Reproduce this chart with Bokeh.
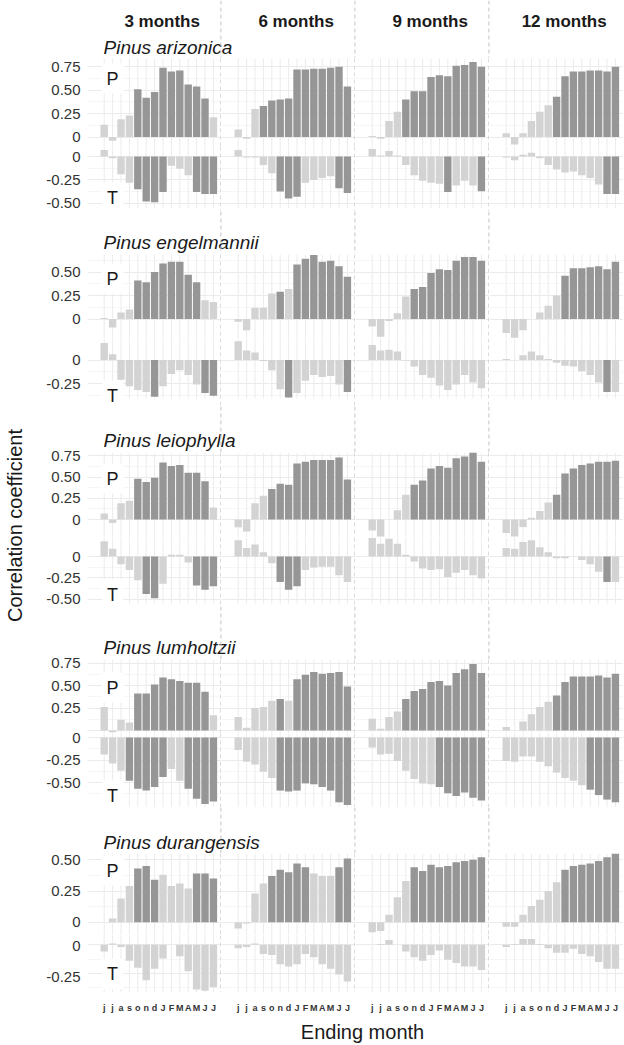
from math import pi
from bokeh.plotting import figure
from bokeh.layouts import row, column
from bokeh.models import Range1d, FixedTicker, Span, Label, ColumnDataSource, Grid, LinearAxis
from bokeh.embed import file_html
from bokeh.resources import INLINE
from bokeh.core.properties import value

# ---------------- data ----------------
months = ["j", "j", "a", "s", "o", "n", "d", "J", "F", "M", "A", "M", "J", "J"]
windows = ["3 months", "6 months", "9 months", "12 months"]
species = ["Pinus arizonica", "Pinus engelmannii", "Pinus leiophylla",
           "Pinus lumholtzii", "Pinus durangensis"]
panel_names = ["P", "T"]
tick_values = [-0.5, -0.25, 0.0, 0.25, 0.5, 0.75]
tick_labels = ["-0.50", "-0.25", "0", "0.25", "0.50", "0.75"]
y_title = "Correlation coefficient"
x_title = "Ending month"

# one list per window (3, 6, 9, 12 months); sig: 1 = significant (dark bar)
arizonica_P = [
    [0.13, -0.04, 0.19, 0.23, 0.51, 0.42, 0.48, 0.74, 0.70, 0.71, 0.56, 0.54, 0.41, 0.21],
    [0.08, -0.02, 0.30, 0.33, 0.39, 0.40, 0.41, 0.72, 0.72, 0.73, 0.73, 0.74, 0.75, 0.54],
    [0.01, -0.02, 0.17, 0.27, 0.40, 0.49, 0.49, 0.64, 0.66, 0.65, 0.76, 0.77, 0.80, 0.75],
    [0.04, -0.08, 0.04, 0.17, 0.27, 0.34, 0.43, 0.65, 0.70, 0.70, 0.71, 0.71, 0.70, 0.75]]
arizonica_P_sig = [
    [0, 0, 0, 0, 1, 1, 1, 1, 1, 1, 1, 1, 1, 0],
    [0, 0, 0, 1, 1, 1, 1, 1, 1, 1, 1, 1, 1, 1],
    [0, 0, 0, 0, 1, 1, 1, 1, 1, 1, 1, 1, 1, 1],
    [0, 0, 0, 0, 0, 0, 1, 1, 1, 1, 1, 1, 1, 1]]
arizonica_T = [
    [0.07, -0.02, -0.19, -0.28, -0.35, -0.48, -0.49, -0.38, -0.10, -0.13, -0.20, -0.38, -0.40, -0.40],
    [0.07, -0.01, -0.01, -0.09, -0.18, -0.375, -0.45, -0.43, -0.28, -0.25, -0.23, -0.21, -0.34, -0.39],
    [0.08, 0.01, 0.06, 0.01, -0.09, -0.20, -0.26, -0.28, -0.29, -0.38, -0.31, -0.26, -0.31, -0.37],
    [-0.01, -0.04, 0.02, 0.04, -0.02, -0.09, -0.14, -0.17, -0.16, -0.20, -0.23, -0.30, -0.40, -0.40]]
arizonica_T_sig = [
    [0, 0, 0, 0, 1, 1, 1, 1, 0, 0, 0, 1, 1, 1],
    [0, 0, 0, 0, 0, 1, 1, 1, 0, 0, 0, 0, 1, 1],
    [0, 0, 0, 0, 0, 0, 0, 0, 0, 1, 0, 0, 0, 1],
    [0, 0, 0, 0, 0, 0, 0, 0, 0, 0, 0, 0, 1, 1]]

engelmannii_P = [
    [0.01, -0.09, 0.07, 0.10, 0.41, 0.39, 0.50, 0.59, 0.61, 0.61, 0.47, 0.39, 0.20, 0.18],
    [-0.03, -0.12, 0.12, 0.12, 0.27, 0.29, 0.32, 0.58, 0.64, 0.68, 0.61, 0.62, 0.56, 0.45],
    [-0.08, -0.19, -0.02, 0.06, 0.24, 0.32, 0.34, 0.49, 0.53, 0.52, 0.62, 0.66, 0.66, 0.62],
    [-0.15, -0.20, -0.12, 0.00, 0.07, 0.14, 0.25, 0.46, 0.54, 0.54, 0.55, 0.56, 0.53, 0.61]]
engelmannii_P_sig = [
    [0, 0, 0, 0, 1, 1, 1, 1, 1, 1, 1, 1, 0, 0],
    [0, 0, 0, 0, 0, 1, 0, 1, 1, 1, 1, 1, 1, 1],
    [0, 0, 0, 0, 0, 1, 1, 1, 1, 1, 1, 1, 1, 1],
    [0, 0, 0, 0, 0, 0, 0, 1, 1, 1, 1, 1, 1, 1]]
engelmannii_T = [
    [0.18, 0.06, -0.21, -0.28, -0.32, -0.34, -0.39, -0.28, -0.15, -0.11, -0.16, -0.26, -0.35, -0.38],
    [0.20, 0.10, 0.08, -0.01, -0.11, -0.31, -0.40, -0.35, -0.22, -0.16, -0.18, -0.17, -0.26, -0.34],
    [0.16, 0.10, 0.11, 0.09, -0.005, -0.07, -0.16, -0.19, -0.27, -0.32, -0.26, -0.16, -0.24, -0.30],
    [0.01, 0.00, 0.05, 0.09, 0.05, 0.01, -0.03, -0.06, -0.07, -0.12, -0.16, -0.24, -0.34, -0.34]]
engelmannii_T_sig = [
    [0, 0, 0, 0, 0, 0, 1, 0, 0, 0, 0, 0, 1, 1],
    [0, 0, 0, 0, 0, 0, 1, 0, 0, 0, 0, 0, 0, 1],
    [0, 0, 0, 0, 0, 0, 0, 0, 0, 0, 0, 0, 0, 0],
    [0, 0, 0, 0, 0, 0, 0, 0, 0, 0, 0, 0, 1, 0]]

leiophylla_P = [
    [0.07, -0.04, 0.19, 0.22, 0.48, 0.44, 0.49, 0.67, 0.63, 0.64, 0.55, 0.55, 0.45, 0.14],
    [-0.09, -0.14, 0.19, 0.28, 0.36, 0.42, 0.41, 0.66, 0.68, 0.70, 0.70, 0.70, 0.73, 0.47],
    [-0.13, -0.20, 0.00, 0.11, 0.29, 0.41, 0.46, 0.60, 0.63, 0.61, 0.72, 0.74, 0.79, 0.68],
    [-0.16, -0.20, -0.09, 0.02, 0.10, 0.20, 0.29, 0.54, 0.60, 0.64, 0.66, 0.68, 0.68, 0.69]]
leiophylla_P_sig = [
    [0, 0, 0, 0, 1, 1, 1, 1, 1, 1, 1, 1, 1, 0],
    [0, 0, 0, 0, 1, 1, 1, 1, 1, 1, 1, 1, 1, 1],
    [0, 0, 0, 0, 0, 1, 1, 1, 1, 1, 1, 1, 1, 1],
    [0, 0, 0, 0, 0, 0, 1, 1, 1, 1, 1, 1, 1, 1]]
leiophylla_T = [
    [0.18, 0.09, -0.09, -0.16, -0.28, -0.44, -0.49, -0.32, 0.02, 0.02, -0.07, -0.34, -0.39, -0.35],
    [0.19, 0.10, 0.14, 0.05, -0.08, -0.30, -0.39, -0.35, -0.16, -0.13, -0.12, -0.12, -0.22, -0.30],
    [0.22, 0.15, 0.21, 0.15, 0.02, -0.06, -0.14, -0.16, -0.15, -0.24, -0.19, -0.16, -0.22, -0.26],
    [0.10, 0.09, 0.17, 0.19, 0.11, 0.05, -0.02, -0.02, 0.00, -0.04, -0.09, -0.18, -0.30, -0.30]]
leiophylla_T_sig = [
    [0, 0, 0, 0, 0, 1, 1, 0, 0, 0, 0, 1, 1, 1],
    [0, 0, 0, 0, 0, 1, 1, 1, 0, 0, 0, 0, 0, 0],
    [0, 0, 0, 0, 0, 0, 0, 0, 0, 0, 0, 0, 0, 0],
    [0, 0, 0, 0, 0, 0, 0, 0, 0, 0, 0, 0, 1, 0]]

lumholtzii_P = [
    [0.26, -0.02, 0.12, 0.09, 0.41, 0.41, 0.51, 0.59, 0.57, 0.55, 0.53, 0.53, 0.43, 0.17],
    [0.15, 0.03, 0.25, 0.26, 0.33, 0.35, 0.33, 0.57, 0.62, 0.65, 0.63, 0.64, 0.65, 0.49],
    [0.13, 0.02, 0.15, 0.21, 0.35, 0.44, 0.46, 0.54, 0.55, 0.50, 0.64, 0.68, 0.74, 0.64],
    [0.04, 0.00, 0.10, 0.18, 0.26, 0.32, 0.39, 0.54, 0.60, 0.60, 0.60, 0.61, 0.59, 0.63]]
lumholtzii_P_sig = [
    [0, 0, 0, 0, 1, 1, 1, 1, 1, 1, 1, 1, 1, 0],
    [0, 0, 0, 0, 0, 1, 0, 1, 1, 1, 1, 1, 1, 1],
    [0, 0, 0, 0, 1, 1, 1, 1, 1, 1, 1, 1, 1, 1],
    [0, 0, 0, 0, 0, 0, 1, 1, 1, 1, 1, 1, 1, 1]]
lumholtzii_T = [
    [-0.19, -0.29, -0.37, -0.48, -0.57, -0.59, -0.55, -0.44, -0.35, -0.48, -0.57, -0.68, -0.74, -0.71],
    [-0.14, -0.27, -0.30, -0.38, -0.45, -0.59, -0.60, -0.59, -0.51, -0.52, -0.55, -0.59, -0.72, -0.75],
    [-0.11, -0.19, -0.18, -0.26, -0.37, -0.46, -0.51, -0.52, -0.55, -0.62, -0.65, -0.61, -0.67, -0.70],
    [-0.26, -0.27, -0.21, -0.21, -0.27, -0.32, -0.39, -0.45, -0.48, -0.53, -0.58, -0.64, -0.69, -0.72]]
lumholtzii_T_sig = [
    [0, 0, 0, 1, 1, 1, 1, 1, 0, 0, 1, 1, 1, 1],
    [0, 0, 0, 0, 0, 1, 1, 1, 1, 1, 1, 1, 1, 1],
    [0, 0, 0, 0, 0, 0, 0, 0, 1, 1, 1, 1, 1, 1],
    [0, 0, 0, 0, 0, 0, 0, 0, 0, 0, 1, 1, 1, 1]]

durangensis_P = [
    [0.00, 0.03, 0.19, 0.29, 0.43, 0.45, 0.34, 0.38, 0.29, 0.31, 0.27, 0.39, 0.39, 0.35],
    [-0.05, -0.01, 0.23, 0.31, 0.37, 0.42, 0.40, 0.47, 0.44, 0.39, 0.37, 0.37, 0.44, 0.51],
    [-0.08, -0.07, 0.06, 0.20, 0.33, 0.44, 0.41, 0.46, 0.44, 0.45, 0.48, 0.49, 0.50, 0.52],
    [-0.035, -0.035, 0.06, 0.13, 0.18, 0.25, 0.32, 0.42, 0.45, 0.46, 0.47, 0.49, 0.52, 0.55]]
durangensis_P_sig = [
    [0, 0, 0, 0, 1, 1, 1, 0, 0, 0, 0, 1, 1, 1],
    [0, 0, 0, 0, 1, 1, 1, 1, 1, 0, 0, 0, 1, 1],
    [0, 0, 0, 0, 0, 1, 1, 1, 1, 1, 1, 1, 1, 1],
    [0, 0, 0, 0, 0, 0, 0, 1, 1, 1, 1, 1, 1, 1]]
durangensis_T = [
    [-0.06, 0.01, -0.02, -0.14, -0.20, -0.31, -0.21, -0.12, 0.00, -0.10, -0.23, -0.39, -0.40, -0.37],
    [-0.03, -0.02, 0.01, -0.08, -0.09, -0.17, -0.19, -0.17, -0.08, -0.11, -0.17, -0.21, -0.26, -0.32],
    [0.00, 0.005, 0.04, 0.00, -0.06, -0.11, -0.14, -0.09, -0.05, -0.13, -0.16, -0.19, -0.19, -0.22],
    [-0.02, 0.005, 0.05, 0.05, 0.005, -0.03, -0.07, -0.07, -0.035, -0.08, -0.10, -0.15, -0.21, -0.21]]
durangensis_T_sig = [
    [0] * 14,
    [0] * 14,
    [0] * 14,
    [0] * 14]

series = {
    "Pinus arizonica": (arizonica_P, arizonica_P_sig, arizonica_T, arizonica_T_sig),
    "Pinus engelmannii": (engelmannii_P, engelmannii_P_sig, engelmannii_T, engelmannii_T_sig),
    "Pinus leiophylla": (leiophylla_P, leiophylla_P_sig, leiophylla_T, leiophylla_T_sig),
    "Pinus lumholtzii": (lumholtzii_P, lumholtzii_P_sig, lumholtzii_T, lumholtzii_T_sig),
    "Pinus durangensis": (durangensis_P, durangensis_P_sig, durangensis_T, durangensis_T_sig),
}

# ---------------- style / layout ----------------
FONT = "Liberation Sans"
DARK = "#969696"
LIGHT = "#d3d3d3"
GRID = "#ebebeb"
GRID_MINOR = "#f4f4f4"
SEP = "#c4c4c4"
TXT = "#1a1a1a"

LEFT_W = 30      # area for the vertical axis title
AXIS_W = 57      # area for tick labels
COL_W = 134      # one window column
XAXIS_H = 18     # month labels
BOTTOM_H = 30    # x-axis title strip
PX_PER_MONTH = 8.4
X0 = -1.99
X1 = X0 + COL_W / PX_PER_MONTH
SEP_OFF = 0.07
SEP_PX = (X1 - SEP_OFF - X0) * PX_PER_MONTH

# per species row: block top, P frame top, P/T split, T frame bottom, P zero px,
# T zero px, px per unit, T panel bottom px, title px, P label px, T label px
GEOM = [
    (0, 58, 146, 211, 136.5, 156.0, 93.6, 208, 47, 78, 197),
    (211, 254, 338, 406, 318.5, 359.5, 94.0, 398, 242, 278, 395),
    (406, 452, 537, 606, 519.0, 556.0, 85.0, 603, 440, 478, 594),
    (606, 659, 733, 807, 730.0, 737.0, 90.0, 807, 647, 687, 795),
    (807, 853, 935, 997, 921.75, 945.0, 125.0, 997, 842, 870, 977),
]
HEADER_PX = 21
TITLE_X_PX = 16
HEADER_X = 6.9
P_TICKS = [[0.0, 0.25, 0.5, 0.75], [0.0, 0.25, 0.5], [0.0, 0.25, 0.5, 0.75],
           [0.0, 0.25, 0.5, 0.75], [0.0, 0.25, 0.5]]
T_TICKS = [[0.0, -0.25, -0.5], [0.0, -0.25], [0.0, -0.25, -0.5],
           [0.0, -0.25, -0.5], [0.0, -0.25]]
P_HIDE_ZERO = [False, False, False, True, False]

label_of = dict(zip(tick_values, tick_labels))
idx = list(range(len(months)))


def blank_fig(width, height, xr, yr):
    p = figure(width=width, height=height, x_range=xr, y_range=yr,
               x_axis_type=None, y_axis_type=None, title=None,
               toolbar_location=None, output_backend="svg")
    p.min_border_left = 0
    p.min_border_right = 0
    p.min_border_top = 0
    p.min_border_bottom = 0
    p.outline_line_color = None
    p.background_fill_color = "white"
    p.border_fill_color = "white"
    return p


def panel_fig(lo, hi, frame_h, bottom_axis=False):
    extra_bottom = XAXIS_H if bottom_axis else 0
    p = blank_fig(COL_W, frame_h + extra_bottom, Range1d(X0, X1), Range1d(lo, hi))
    p.min_border_bottom = extra_bottom
    return p


def decorate(p, majors, minors, v_lo, v_hi, c):
    p.add_layout(Grid(dimension=1, ticker=FixedTicker(ticks=majors, minor_ticks=minors),
                      grid_line_color=GRID, grid_line_width=1,
                      minor_grid_line_color=GRID_MINOR, minor_grid_line_width=0.8))
    p.segment(x0=idx, x1=idx, y0=[v_lo] * len(idx), y1=[v_hi] * len(idx),
              line_color=GRID, line_width=1)
    if c < 3:
        p.add_layout(Span(location=X1 - SEP_OFF, dimension="height", line_color=SEP,
                          line_dash="4 3", line_width=1))


def bars(p, vals, sig):
    src = ColumnDataSource(dict(x=idx, top=vals,
                                color=[DARK if s else LIGHT for s in sig]))
    p.vbar(x="x", top="top", bottom=0, width=0.88, fill_color="color",
           line_color=None, source=src)


def corner_label(p, text, y):
    p.add_layout(Label(x=1.0, y=y, text=text, text_font=FONT, text_font_size="18px",
                       text_color=TXT, text_align="center", text_baseline="middle",
                       background_fill_color="white", padding=5))


axis_figs = []
blocks = []
for r, sp in enumerate(species):
    (btop, ftop, split, fbot, pz, tz, s, tbot_px, title_px, plab_px, tlab_px) = GEOM[r]
    P_vals, P_sig, T_vals, T_sig = series[sp]
    p_hi = (pz - ftop) / s
    p_lo = -(split - pz) / s
    t_hi = (tz - split) / s
    t_lo = -(fbot - tz) / s
    t_panel_bot = -(tbot_px - tz) / s
    p_major = P_TICKS[r]
    p_minor = [t + 0.125 for t in p_major if t + 0.125 <= p_hi]
    t_major = T_TICKS[r]
    t_minor = [t - 0.125 for t in t_major if t - 0.125 >= t_panel_bot]
    last = r == len(species) - 1

    # title strip (species name, window headers, separators)
    sh = ftop - btop
    strip = blank_fig(4 * COL_W, sh, Range1d(0, 4 * COL_W), Range1d(sh, 0))
    for c in range(3):
        strip.add_layout(Span(location=c * COL_W + SEP_PX, dimension="height",
                              line_color=SEP, line_dash="4 3", line_width=1))
    if r == 0:
        strip.text(x=[c * COL_W + (HEADER_X - X0) * PX_PER_MONTH for c in range(4)],
                   y=[HEADER_PX - btop] * 4, text=windows,
                   text_font=value(FONT), text_font_style="bold", text_font_size="17px",
                   text_align="center", text_baseline="middle", text_color=TXT)
    strip.text(x=[TITLE_X_PX], y=[title_px - btop], text=[sp],
               text_font=value(FONT), text_font_style="italic", text_font_size="19px",
               text_align="left", text_baseline="middle", text_color=TXT)

    prow, trow = [], []
    for c in range(4):
        pp = panel_fig(p_lo, p_hi, split - ftop)
        decorate(pp, p_major, p_minor, p_lo, p_hi, c)
        bars(pp, P_vals[c], P_sig[c])
        if c == 0:
            corner_label(pp, panel_names[0], (pz - plab_px) / s)
        prow.append(pp)

        tp = panel_fig(t_lo, t_hi, fbot - split, bottom_axis=last)
        decorate(tp, t_major, t_minor, t_panel_bot, t_hi, c)
        bars(tp, T_vals[c], T_sig[c])
        if c == 0:
            corner_label(tp, panel_names[1], (tz - tlab_px) / s)
        if last:
            xa = LinearAxis(ticker=FixedTicker(ticks=idx),
                            major_label_overrides={i: m for i, m in enumerate(months)},
                            axis_line_color=None, major_tick_line_color=None,
                            minor_tick_line_color=None, major_label_standoff=4,
                            major_label_text_font=FONT, major_label_text_font_size="9px",
                            major_label_text_font_style="bold",
                            major_label_text_color="#333333")
            tp.add_layout(xa, "below")
        trow.append(tp)
    blocks.append(column(strip, row(*prow), row(*trow)))

    # tick labels of this species block, placed through the P and T scales
    bh = fbot - btop
    af = blank_fig(AXIS_W, bh, Range1d(0, AXIS_W),
                   Range1d((pz - fbot) / s, (pz - btop) / s))
    af.extra_y_ranges = {"T": Range1d((tz - fbot) / s, (tz - btop) / s)}
    p_lab = ["" if (P_HIDE_ZERO[r] and t == 0) else label_of[t] for t in p_major]
    af.text(x=[AXIS_W - 7] * len(p_major), y=p_major, text=p_lab,
            text_font=value(FONT), text_font_size="15px", text_align="right",
            text_baseline="middle", text_color="#333333")
    af.text(x=[AXIS_W - 7] * len(t_major), y=t_major, text=[label_of[t] for t in t_major],
            text_font=value(FONT), text_font_size="15px", text_align="right",
            text_baseline="middle", text_color="#333333", y_range_name="T")
    axis_figs.append(af)

# x-axis title strip
strip_w = 4 * COL_W
bottom = blank_fig(strip_w, BOTTOM_H, Range1d(0, strip_w), Range1d(BOTTOM_H, 0))
bottom.text(x=[2 * COL_W + 7], y=[16], text=[x_title], text_font=value(FONT),
            text_font_size="20px", text_align="center", text_baseline="middle",
            text_color=TXT)

# y-axis title strip
total_h = 1045
left = blank_fig(LEFT_W, total_h, Range1d(0, LEFT_W), Range1d(total_h, 0))
left.text(x=[14], y=[525], text=[y_title], angle=pi / 2, text_font=value(FONT),
          text_font_size="20px", text_align="center", text_baseline="middle",
          text_color=TXT)

layout = row(left, column(*axis_figs), column(*blocks, bottom))

open("out.html", "w").write(file_html(layout, INLINE, title="Correlation coefficients"))
